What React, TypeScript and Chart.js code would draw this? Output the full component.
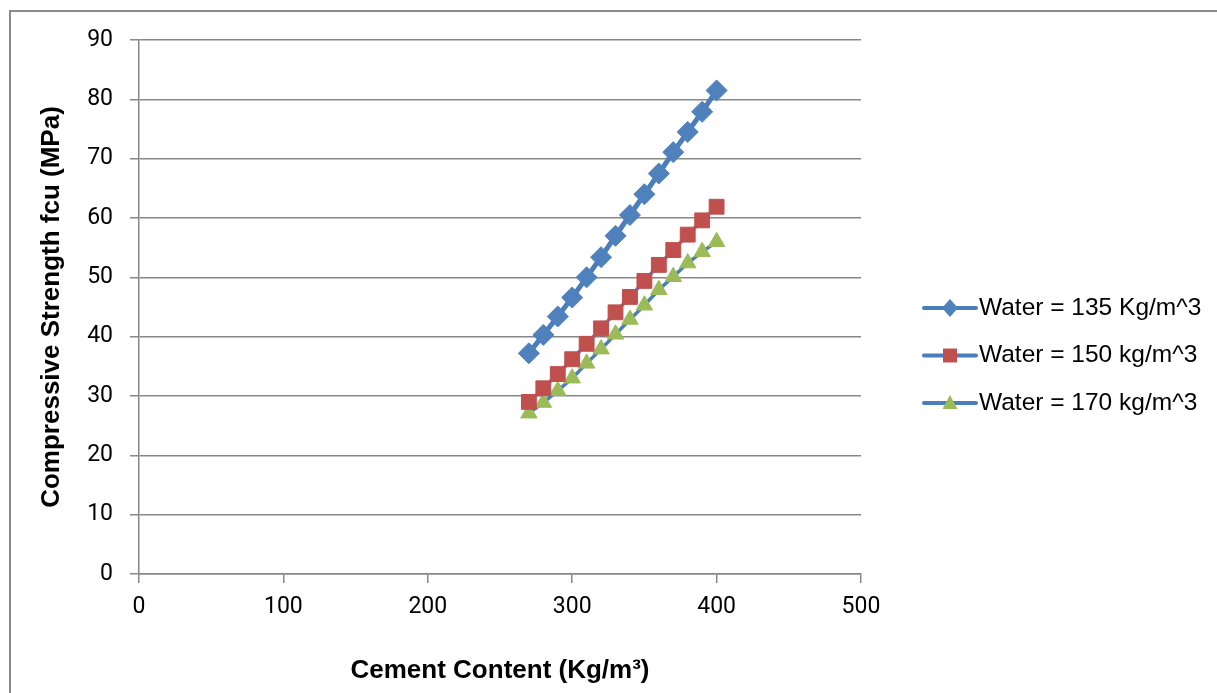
import React, { useEffect, useRef } from 'react';
import { Chart, registerables } from 'chart.js';

Chart.register(...registerables);

// ---- data ----
const cementContent = [270, 280, 290, 300, 310, 320, 330, 340, 350, 360, 370, 380, 390, 400];
const water135 = [37.2, 40.3, 43.4, 46.6, 50.0, 53.4, 57.0, 60.5, 64.0, 67.5, 71.1, 74.5, 77.9, 81.5];
const water150 = [29.0, 31.3, 33.7, 36.2, 38.8, 41.4, 44.1, 46.7, 49.4, 52.1, 54.6, 57.2, 59.6, 61.9];
const water170 = [27.1, 28.9, 30.9, 33.0, 35.5, 37.9, 40.4, 42.9, 45.3, 47.9, 50.1, 52.4, 54.3, 56.0];
const seriesLabels = ['Water = 135 Kg/m^3', 'Water = 150 kg/m^3', 'Water = 170 kg/m^3'];
const xAxisTitle = 'Cement Content (Kg/m\u00B3)';
const yAxisTitle = 'Compressive Strength fcu (MPa)';
const xRange = [0, 500, 100];
const yRange = [0, 90, 10];

const LINE_BLUE = '#4A7EBB';
const markerFills = ['#4F81BD', '#C0504D', '#9BBB59'];
const markerStyles = ['rectRot', 'rect', 'triangle'];
const GRID = '#878787';

const toPoints = (ys: number[]) => cementContent.map((x, i) => ({ x, y: ys[i] }));

function drawMarker(ctx: CanvasRenderingContext2D, style: string, x: number, y: number, fill: string) {
  ctx.fillStyle = fill;
  ctx.beginPath();
  if (style === 'rectRot') {
    ctx.moveTo(x - 8, y);
    ctx.lineTo(x, y - 9);
    ctx.lineTo(x + 8, y);
    ctx.lineTo(x, y + 9);
    ctx.closePath();
  } else if (style === 'rect') {
    ctx.rect(x - 7, y - 7, 14, 14);
  } else {
    ctx.moveTo(x, y - 8);
    ctx.lineTo(x + 7.5, y + 6);
    ctx.lineTo(x - 7.5, y + 6);
    ctx.closePath();
  }
  ctx.fill();
}

const sideLegend = {
  id: 'sideLegend',
  afterDraw(chart: any) {
    const ctx: CanvasRenderingContext2D = chart.ctx;
    const x0 = chart.chartArea.right + 61;
    const y0 = 308;
    const gap = 47.5;
    chart.data.datasets.forEach((ds: any, i: number) => {
      const y = y0 + i * gap;
      ctx.save();
      ctx.strokeStyle = ds.borderColor;
      ctx.lineWidth = 4;
      ctx.lineCap = 'round';
      ctx.beginPath();
      ctx.moveTo(x0 + 2, y);
      ctx.lineTo(x0 + 54, y);
      ctx.stroke();
      drawMarker(ctx, markerStyles[i], x0 + 28, y, markerFills[i]);
      ctx.fillStyle = '#000';
      ctx.font = '24.5px "Liberation Sans", Arial, sans-serif';
      ctx.textBaseline = 'middle';
      ctx.textAlign = 'left';
      ctx.fillText(ds.label, x0 + 57, y);
      ctx.restore();
    });
  },
};

const markerRadius = [10.5, 10.5, 9.5];
const lineWidths = [5, 3.5, 3.5];

export default function App() {
  const canvasRef = useRef<HTMLCanvasElement | null>(null);

  useEffect(() => {
    if (!canvasRef.current) return;
    const seriesValues = [water135, water150, water170];
    const chart = new Chart(canvasRef.current, {
      type: 'scatter',
      data: {
        datasets: seriesValues.map((vals, i) => ({
          label: seriesLabels[i],
          data: toPoints(vals),
          showLine: true,
          borderColor: LINE_BLUE,
          borderWidth: lineWidths[i],
          backgroundColor: markerFills[i],
          pointBackgroundColor: markerFills[i],
          pointBorderColor: markerFills[i],
          pointBorderWidth: 1,
          pointStyle: markerStyles[i] as any,
          pointRadius: markerRadius[i],
          pointHoverRadius: markerRadius[i],
          tension: 0,
        })),
      },
      options: {
        animation: false,
        responsive: false,
        events: [],
        layout: { padding: { left: 30, top: 40, right: 356, bottom: 0 } },
        plugins: {
          legend: { display: false },
          tooltip: { enabled: false },
        },
        scales: {
          x: {
            type: 'linear',
            min: xRange[0],
            max: xRange[1],
            afterFit: (s: any) => { s.height = 119; },
            ticks: {
              stepSize: xRange[2],
              color: '#000',
              padding: 10,
              font: { family: 'Roboto, "Liberation Sans", sans-serif', size: 23 },
            },
            grid: {
              drawOnChartArea: false,
              drawTicks: true,
              tickLength: 9,
              color: GRID,
              lineWidth: 1.5,
            },
            border: { display: true, color: GRID, width: 1.5 },
            title: {
              display: true,
              text: xAxisTitle,
              color: '#000',
              font: { family: '"Liberation Sans", Arial, sans-serif', size: 26, weight: 'bold' },
              padding: { top: 0, bottom: 7 },
            },
          },
          y: {
            type: 'linear',
            min: yRange[0],
            max: yRange[1],
            afterFit: (s: any) => { s.width = 109; },
            ticks: {
              stepSize: yRange[2],
              color: '#000',
              padding: 17,
              font: { family: 'Roboto, "Liberation Sans", sans-serif', size: 23 },
            },
            grid: {
              drawOnChartArea: true,
              drawTicks: true,
              tickLength: 9,
              color: GRID,
              lineWidth: 1.5,
            },
            border: { display: true, color: GRID, width: 1.5 },
            title: {
              display: true,
              text: yAxisTitle,
              color: '#000',
              font: { family: '"Liberation Sans", Arial, sans-serif', size: 26, weight: 'bold' },
              padding: { top: 6, bottom: 0 },
            },
          },
        },
      },
      plugins: [sideLegend],
    });
    return () => chart.destroy();
  }, []);

  return (
    <div style={{ position: 'fixed', left: 0, top: 0, width: 1217, height: 693, overflow: 'hidden', background: '#fff' }}>
      <div
        style={{
          position: 'absolute',
          left: 9,
          top: 10,
          width: 1300,
          height: 800,
          borderTop: '2px solid #8a8a8a',
          borderLeft: '2px solid #8a8a8a',
        }}
      />
      <canvas
        ref={canvasRef}
        width={1217}
        height={693}
        style={{ position: 'absolute', left: 0, top: 0, width: 1217, height: 693 }}
      />
    </div>
  );
}
